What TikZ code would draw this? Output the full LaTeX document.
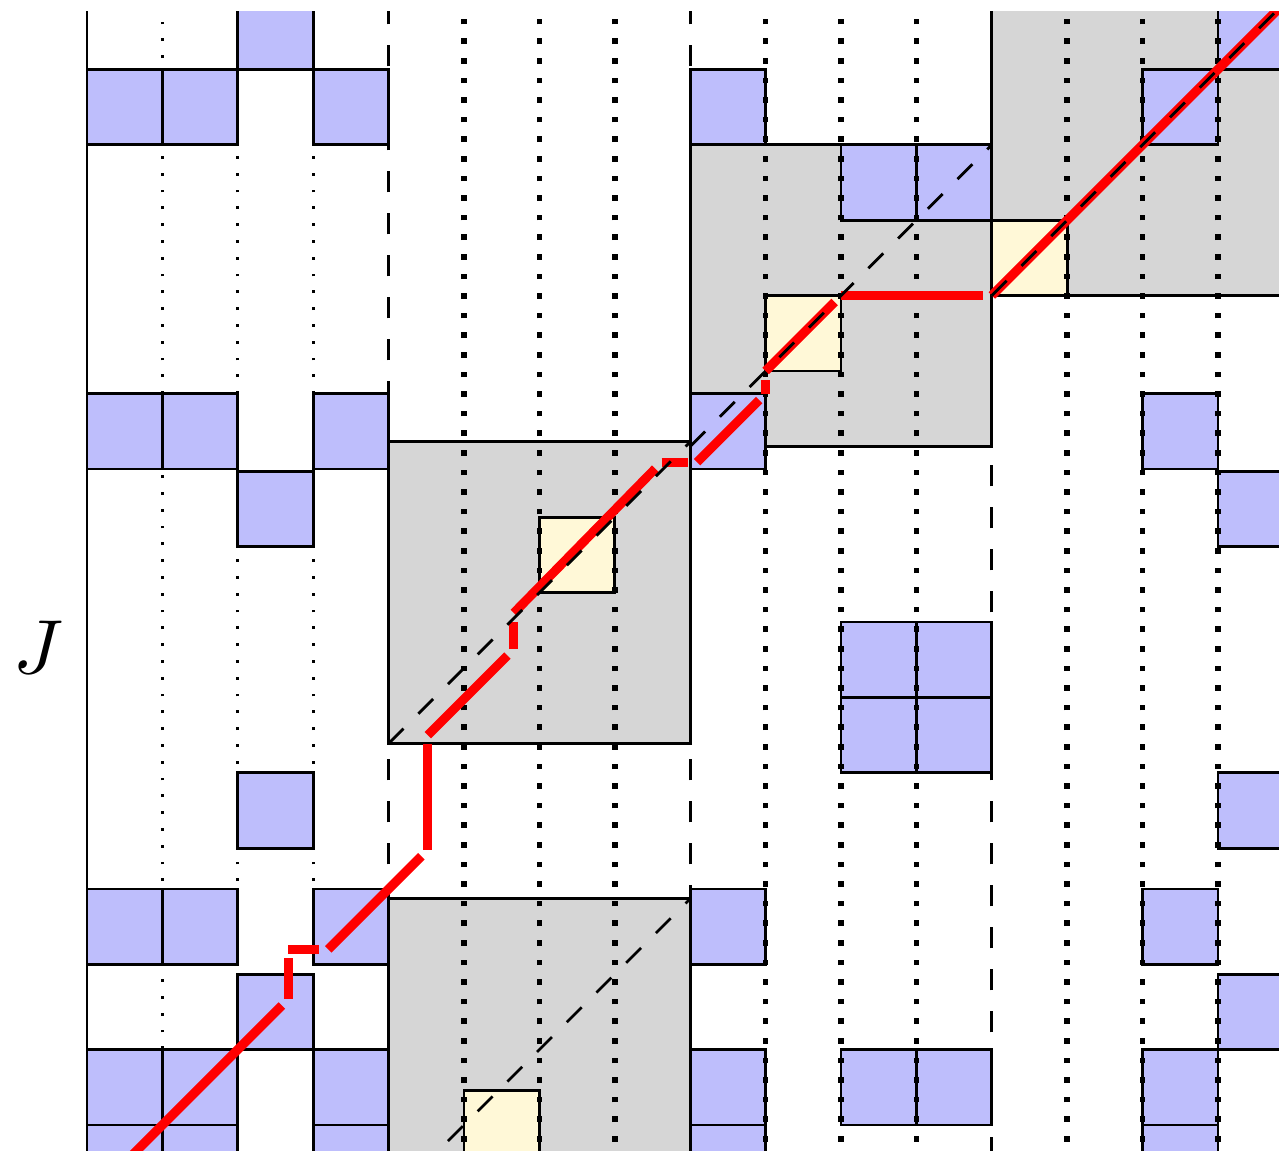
\documentclass[tikz,border=0pt]{standalone}
\usepackage{amsmath,amssymb}
\usepackage{tikz}
\definecolor{boxgray}{RGB}{214,214,214}
\definecolor{hitblue}{RGB}{190,190,252}
\definecolor{pickyellow}{RGB}{255,248,215}
\begin{document}
\begin{tikzpicture}[scale=0.3786,
  hit/.style={fill=hitblue,draw=black},
  blockbox/.style={fill=boxgray,draw=black},
  pick/.style={fill=pickyellow,draw=black},
  diagline/.style={dashed},
  route/.style={red,line width=1.3pt,shorten >=1.3pt}]
 \useasboundingbox (-1.1538,-0.3316) rectangle (15.809,14.920); % 全体

 \coordinate (P0) at (-0.5,-1.5); % 経路の始点
 \coordinate (P1) at (2.67,1.67);
 \coordinate (P2) at (2.67,2.33);
 \coordinate (P3) at (3.2,2.33);
 \coordinate (P4) at (4.52,3.65);
 \coordinate (P5) at (4.52,5.17);
 \coordinate (P6) at (5.66,6.31);
 \coordinate (P7) at (5.66,6.79);
 \coordinate (P8) at (7.62,8.79);
 \coordinate (P9) at (8.09,8.79);
 \coordinate (P10) at (9,9.7);
 \coordinate (P11) at (9,10);
 \coordinate (P12) at (10,11);
 \coordinate (P13) at (12,11);
 \coordinate (P14) at (16.5,15.5); % 経路の終点

 \begin{scope}
 \clip (-0.2,-0.3316) rectangle (15.809,14.77); % 表示範囲

 \filldraw[blockbox] (4,5.06) rectangle (8,9.06); % 灰色の箱
 \filldraw[blockbox] (4,-1) rectangle (8,3); % 灰色の箱
 \filldraw[blockbox] (8,9) rectangle (12,13); % 灰色の箱
 \filldraw[blockbox] (12,11) rectangle (16,15); % 灰色の箱

 \filldraw[pick] (6,7.06) rectangle ++(1,1); % 選ばれた一致
 \filldraw[pick] (5,-0.54) rectangle ++(1,1);
 \filldraw[pick] (9,10) rectangle ++(1,1);
 \filldraw[pick] (12,11) rectangle ++(1,1);

 % 一致 (左)
 \filldraw[hit] (2,14) rectangle (3,15.2);
 \filldraw[hit] (0,13) rectangle ++(1,1) (1,13) rectangle ++(1,1) (3,13) rectangle ++(1,1);
 \filldraw[hit] (0,8.7) rectangle ++(1,1) (1,8.7) rectangle ++(1,1) (3,8.7) rectangle ++(1,1);
 \filldraw[hit] (2,7.67) rectangle ++(1,1);
 \filldraw[hit] (2,3.67) rectangle ++(1,1);
 \filldraw[hit] (0,2.13) rectangle ++(1,1) (1,2.13) rectangle ++(1,1) (3,2.13) rectangle ++(1,1);
 \filldraw[hit] (2,1) rectangle ++(1,1);
 \filldraw[hit] (0,0) rectangle ++(1,1) (1,0) rectangle ++(1,1) (3,0) rectangle ++(1,1);
 \filldraw[hit] (0,-1) rectangle ++(1,1) (1,-1) rectangle ++(1,1) (3,-1) rectangle ++(1,1);

 % 一致 (中央右)
 \filldraw[hit] (8,13) rectangle ++(1,1);
 \filldraw[hit] (10,12) rectangle ++(1,1) (11,12) rectangle ++(1,1);
 \filldraw[hit] (8,8.7) rectangle ++(1,1);
 \filldraw[hit] (10,4.67) rectangle ++(1,1) (11,4.67) rectangle ++(1,1);
 \filldraw[hit] (10,5.67) rectangle ++(1,1) (11,5.67) rectangle ++(1,1);
 \filldraw[hit] (8,2.13) rectangle ++(1,1);
 \filldraw[hit] (8,0) rectangle ++(1,1) (8,-1) rectangle ++(1,1);
 \filldraw[hit] (10,0) rectangle ++(1,1) (11,0) rectangle ++(1,1);

 % 一致 (右)
 \filldraw[hit] (15,14) rectangle (16,15.2);
 \filldraw[hit] (14,13) rectangle ++(1,1);
 \filldraw[hit] (14,8.7) rectangle ++(1,1);
 \filldraw[hit] (15,7.67) rectangle ++(1,1);
 \filldraw[hit] (15,3.67) rectangle ++(1,1);
 \filldraw[hit] (14,2.13) rectangle ++(1,1);
 \filldraw[hit] (15,1) rectangle ++(1,1);
 \filldraw[hit] (14,0) rectangle ++(1,1) (14,-1) rectangle ++(1,1);

 \draw (0,-1) -- (0,15); % 左端
 \draw[dotted] (1,-1) -- (1,15) (2,-1) -- (2,15) (3,-1) -- (3,15); % 細い点線
 \draw[dashed] (4,-1) -- (4,15) (8,-1) -- (8,15) (12,-1) -- (12,15); % 区切り
 \draw[thick,dotted] (5,-1) -- (5,15) (6,-1) -- (6,15) (7,-1) -- (7,15); % 太い点線
 \draw[thick,dotted] (9,-1) -- (9,15) (10,-1) -- (10,15) (11,-1) -- (11,15);
 \draw[thick,dotted] (13,-1) -- (13,15) (14,-1) -- (14,15) (15,-1) -- (15,15);

 % 経路
 \draw[route] (P0) -- (P1);
 \draw[route] (P1) -- (P2);
 \draw[route] (P2) -- (P3);
 \draw[route] (P3) -- (P4);
 \draw[route] (P4) -- (P5);
 \draw[route] (P5) -- (P6);
 \draw[route] (P6) -- (P7);
 \draw[route] (P7) -- (P8);
 \draw[route] (P8) -- (P9);
 \draw[route] (P9) -- (P10);
 \draw[route] (P10) -- (P11);
 \draw[route] (P11) -- (P12);
 \draw[route] (P12) -- (P13);
 \draw[route] (P13) -- (P14);

 \draw[diagline] (4,5.06) -- (8,9.06); % 対角線
 \draw[diagline] (4,-1) -- (8,3);
 \draw[diagline] (8,9) -- (12,13);
 \draw[diagline] (12,11) -- (16,15);
 \end{scope}

 \node[font=\fontsize{11}{13}\selectfont] (Jlab) at (-0.65,6.34) {$J$}; % ラベル
\end{tikzpicture}
\end{document}
